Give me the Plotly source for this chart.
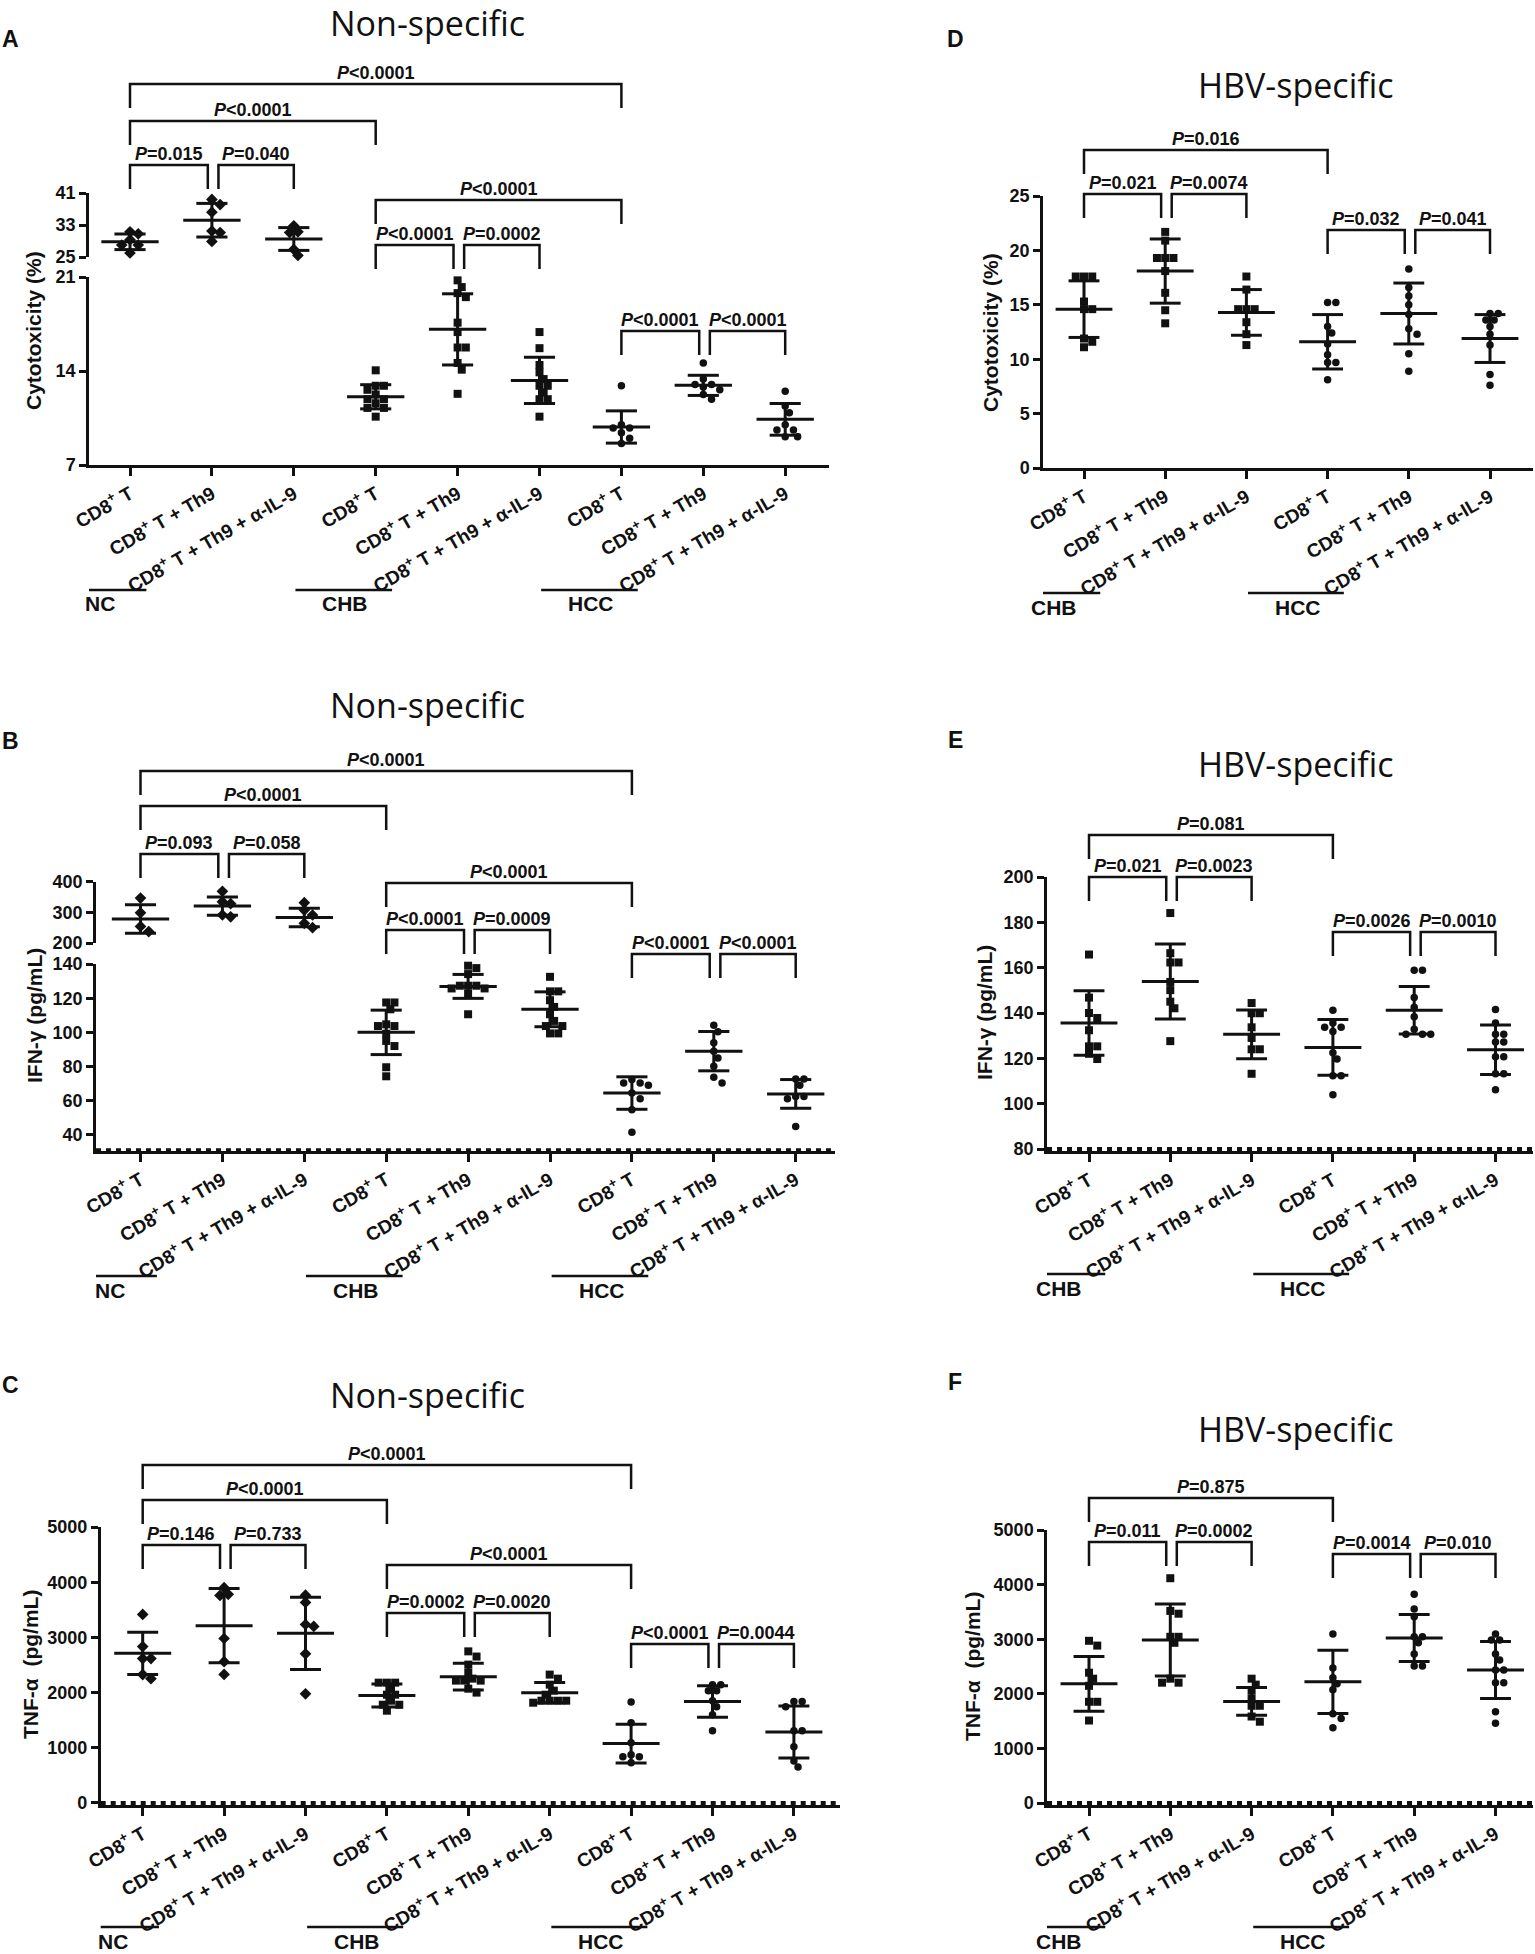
import plotly.graph_objects as go

# ── Canvas ────────────────────────────────────────────────────────────────
W, H = 1535, 1954
FONT = "Liberation Sans, Arial, sans-serif"
TITLE_FONT = "Open Sans, sans-serif"
INK = "#111111"

COND_LABELS = ["CD8<sup>+</sup> T", "CD8<sup>+</sup> T + Th9", "CD8<sup>+</sup> T + Th9 + α-IL-9"]

# ── A: cytotoxicity, non-specific (NC / CHB / HCC) ────────────────────────
A_GROUPS = ["NC", "CHB", "HCC"]
A_PTS = [
    [[31.3, 30.8, 29.3, 28.0, 28.0, 26.0], [39.4, 38.1, 36.2, 31.5, 31.1, 28.9], [32.8, 31.3, 31.1, 26.9, 25.4]],
    [[14.05, 12.9, 12.9, 12.6, 12.25, 11.9, 11.9, 11.6, 11.25, 11.25, 10.6],
     [20.75, 20.25, 19.8, 19.5, 17.6, 16.9, 15.75, 15.75, 14.6, 14.1, 12.3],
     [16.9, 15.7, 14.45, 13.9, 13.4, 12.9, 12.9, 12.4, 11.9, 11.9, 10.6]],
    [[12.9, 10.0, 9.75, 9.75, 9.4, 9.0, 8.6], [14.6, 13.4, 13.0, 13.0, 12.8, 12.6, 12.25, 11.9],
     [12.5, 11.4, 10.9, 10.0, 9.6, 9.6, 9.1, 9.1]],
]
A_MEAN = [[28.8, 34.2, 29.5], [12.08, 17.1, 13.3], [9.83, 12.93, 10.4]]
A_SD = [[1.95, 4.2, 2.85], [0.9, 2.65, 1.72], [1.2, 0.75, 1.18]]
A_TICKS_LOW = [7, 14, 21]
A_TICKS_UP = [25, 33, 41]
A_PAIRS = [(0, 6), (0, 3), (0, 1), (1, 2), (3, 6), (3, 4), (4, 5), (6, 7), (7, 8)]
A_PVALS = ["<0.0001", "<0.0001", "=0.015", "=0.040", "<0.0001", "<0.0001", "=0.0002", "<0.0001", "<0.0001"]

# ── B: IFN-γ, non-specific ────────────────────────────────────────────────
B_GROUPS = ["NC", "CHB", "HCC"]
B_PTS = [
    [[346, 298, 254, 237], [368, 334, 328, 291, 285], [331, 307, 291, 264, 250]],
    [[117.5, 117.5, 113.5, 104.7, 103.7, 103.7, 99.2, 95, 92, 79.6, 74.3],
     [139, 137.6, 134.1, 127.3, 127.3, 127.3, 125.7, 125.7, 122.7, 110.6],
     [132.5, 124, 124, 118.8, 114.9, 110.6, 106.7, 103.7, 103.7, 99.4, 99.4]],
    [[72.5, 70.4, 70.4, 69, 64.5, 61.2, 54.7, 41.6], [104.1, 100.4, 94, 89, 85, 80.2, 73.7, 70.4],
     [72.7, 72.7, 69, 62.5, 62.5, 61.2, 44.9]],
]
B_MEAN = [[278, 320, 283], [100, 126.9, 113.5], [64.5, 89, 64]]
B_SD = [[46, 29.5, 30.3], [13, 7, 10.2], [9.5, 11.5, 8.4]]
B_TICKS_LOW = [40, 60, 80, 100, 120, 140]
B_TICKS_UP = [200, 300, 400]
B_LOD = 31
B_PAIRS = [(0, 6), (0, 3), (0, 1), (1, 2), (3, 6), (3, 4), (4, 5), (6, 7), (7, 8)]
B_PVALS = ["<0.0001", "<0.0001", "=0.093", "=0.058", "<0.0001", "<0.0001", "=0.0009", "<0.0001", "<0.0001"]

# ── C: TNF-α, non-specific ────────────────────────────────────────────────
C_GROUPS = ["NC", "CHB", "HCC"]
C_PTS = [
    [[3416, 2834, 2616, 2616, 2326, 2253], [3900, 3780, 3760, 2980, 2560, 2330],
     [3765, 3634, 3234, 3198, 2703, 1977]],
    [[2180, 2180, 2180, 2071, 1962, 1962, 1853, 1780, 1780, 1672],
     [2747, 2653, 2507, 2362, 2253, 2217, 2217, 2217, 2071, 2000],
     [2326, 2253, 2144, 2035, 1962, 1853, 1853, 1853, 1853, 1817]],
    [[1831, 1453, 1090, 872, 836, 836, 727], [2144, 2144, 2035, 2035, 1853, 1744, 1599, 1308],
     [1839, 1839, 1744, 1308, 1308, 1017, 763, 654]],
]
C_MEAN = [[2711, 3212, 3074], [1948, 2289, 1999], [1076, 1839, 1286]]
C_SD = [[382, 672, 654], [207, 244, 182], [352, 284, 469]]
C_TICKS = [0, 1000, 2000, 3000, 4000, 5000]
C_LOD = 0
C_PAIRS = [(0, 6), (0, 3), (0, 1), (1, 2), (3, 6), (3, 4), (4, 5), (6, 7), (7, 8)]
C_PVALS = ["<0.0001", "<0.0001", "=0.146", "=0.733", "<0.0001", "=0.0002", "=0.0020", "<0.0001", "=0.0044"]

# ── D: cytotoxicity, HBV-specific (CHB / HCC) ─────────────────────────────
D_GROUPS = ["CHB", "HCC"]
D_PTS = [
    [[17.6, 17.6, 17.6, 15.3, 14.6, 14.6, 11.9, 11.6, 11.1], [21.7, 20.9, 19.3, 19.3, 19.3, 18.1, 16.1, 14.5, 13.3],
     [17.6, 16.4, 14.6, 14.6, 14.6, 13.4, 12.3, 11.3]],
    [[15.2, 15.2, 13.0, 12.4, 11.4, 10.4, 9.7, 9.7, 8.1], [18.3, 16.6, 15.8, 15.0, 14.1, 12.8, 12.3, 10.5, 8.9],
     [14.2, 14.2, 13.6, 13.6, 13.0, 12.3, 11.3, 8.6, 7.6]],
]
D_MEAN = [[14.6, 18.1, 14.3], [11.6, 14.2, 11.9]]
D_SD = [[2.6, 2.95, 2.1], [2.5, 2.8, 2.2]]
D_TICKS = [0, 5, 10, 15, 20, 25]
D_PAIRS = [(0, 3), (0, 1), (1, 2), (3, 4), (4, 5)]
D_PVALS = ["=0.016", "=0.021", "=0.0074", "=0.032", "=0.041"]

# ── E: IFN-γ, HBV-specific ────────────────────────────────────────────────
E_GROUPS = ["CHB", "HCC"]
E_PTS = [
    [[165.8, 146.8, 140, 137.8, 132.4, 125.3, 125.3, 122, 119.7],
     [184.1, 166.4, 162.3, 162.3, 153.7, 150.1, 145, 142.1, 127.6],
     [144.4, 139.9, 139.9, 133.7, 129, 124, 124, 113.2]],
    [[141.2, 135.6, 133.7, 133.7, 131.9, 122.5, 119.7, 112.3, 112.3, 103.9],
     [158.9, 158.9, 146.8, 142.5, 138.4, 132.8, 130.6, 130.6, 130.6],
     [141.6, 135.6, 130.6, 130.6, 127.2, 127.2, 120.7, 120.7, 113.2, 113.2, 106.1]],
]
E_MEAN = [[135.6, 153.9, 130.6], [124.8, 141.2, 123.8]]
E_SD = [[14.2, 16.5, 10.75], [12.3, 10.45, 10.95]]
E_TICKS = [80, 100, 120, 140, 160, 180, 200]
E_LOD = 80
E_PAIRS = [(0, 3), (0, 1), (1, 2), (3, 4), (4, 5)]
E_PVALS = ["=0.081", "=0.021", "=0.0023", "=0.0026", "=0.0010"]

# ── F: TNF-α, HBV-specific ────────────────────────────────────────────────
F_GROUPS = ["CHB", "HCC"]
F_PTS = [
    [[2971, 2883, 2387, 2277, 2146, 1854, 1854, 1511], [4117, 3518, 3467, 3044, 3044, 2934, 2277, 2204, 2204],
     [2277, 2168, 2058, 1912, 1781, 1781, 1584, 1489]],
    [[3095, 2474, 2292, 2182, 2073, 1635, 1547, 1380], [3825, 3555, 3409, 3044, 3044, 2934, 2730, 2511, 2511],
     [3095, 2985, 2985, 2730, 2620, 2438, 2438, 2204, 2204, 1672, 1460]],
]
F_MEAN = [[2182, 2985, 1861], [2219, 3022, 2438]]
F_SD = [[503, 661, 255], [580, 430, 522]]
F_TICKS = [0, 1000, 2000, 3000, 4000, 5000]
F_LOD = 0
F_PAIRS = [(0, 3), (0, 1), (1, 2), (3, 4), (4, 5)]
F_PVALS = ["=0.875", "=0.011", "=0.0002", "=0.0014", "=0.010"]

# ── Panel geometry (pixel positions on the 1535x1954 page) ─────────────────
PANELS = [
    dict(letter="A", title="Non-specific", ytitle="Cytotoxicity (%)", groups=A_GROUPS,
         pts=A_PTS, mean=A_MEAN, sd=A_SD, pairs=A_PAIRS, pvals=A_PVALS, lod=None,
         symbols=["diamond", "square", "circle"],
         xdom=(89, 829), cat0=130, step=81.9,
         segs=[dict(dom=(465, 277), rng=(7, 21), ticks=A_TICKS_LOW),
               dict(dom=(257, 193), rng=(25, 41), ticks=A_TICKS_UP)],
         bracket_y=[84, 121, 165, 165, 200, 245, 245, 331, 331],
         title_xy=(427, 23.5), letter_xy=(10, 39), ytitle_xy=(34, 331), group_y=590),
    dict(letter="B", title="Non-specific", ytitle="IFN-γ (pg/mL)", groups=B_GROUPS,
         pts=B_PTS, mean=B_MEAN, sd=B_SD, pairs=B_PAIRS, pvals=B_PVALS, lod=B_LOD,
         symbols=["diamond", "square", "circle"],
         xdom=(96, 835), cat0=140.5, step=81.9,
         segs=[dict(dom=(1151, 964), rng=(30.6, 140), ticks=B_TICKS_LOW),
               dict(dom=(943, 881.5), rng=(200, 400), ticks=B_TICKS_UP)],
         bracket_y=[771, 806, 854, 854, 883, 930, 930, 954, 954],
         title_xy=(427, 705), letter_xy=(10, 741), ytitle_xy=(34, 1016), group_y=1276),
    dict(letter="C", title="Non-specific", ytitle="TNF-α  (pg/mL)", groups=C_GROUPS,
         pts=C_PTS, mean=C_MEAN, sd=C_SD, pairs=C_PAIRS, pvals=C_PVALS, lod=C_LOD,
         symbols=["diamond", "square", "circle"],
         xdom=(100.7, 840), cat0=142.7, step=81.4,
         segs=[dict(dom=(1805.2, 1527), rng=(-40, 5000), ticks=C_TICKS)],
         bracket_y=[1465, 1500, 1545, 1545, 1565, 1613, 1613, 1644, 1644],
         title_xy=(427, 1395), letter_xy=(10, 1385), ytitle_xy=(30, 1665), group_y=1927),
    dict(letter="D", title="HBV-specific", ytitle="Cytotoxicity (%)", groups=D_GROUPS,
         pts=D_PTS, mean=D_MEAN, sd=D_SD, pairs=D_PAIRS, pvals=D_PVALS, lod=None,
         symbols=["square", "circle"],
         xdom=(1043, 1533), cat0=1084, step=81.2,
         segs=[dict(dom=(468, 196), rng=(0, 25), ticks=D_TICKS)],
         bracket_y=[150, 194, 194, 230, 230],
         title_xy=(1296, 85), letter_xy=(955, 39), ytitle_xy=(990, 332), group_y=593),
    dict(letter="E", title="HBV-specific", ytitle="IFN-γ (pg/mL)", groups=E_GROUPS,
         pts=E_PTS, mean=E_MEAN, sd=E_SD, pairs=E_PAIRS, pvals=E_PVALS, lod=E_LOD,
         symbols=["square", "circle"],
         xdom=(1047, 1533), cat0=1089, step=81.3,
         segs=[dict(dom=(1151.3, 877), rng=(79, 200), ticks=E_TICKS)],
         bracket_y=[835, 877, 877, 932, 932],
         title_xy=(1296, 764), letter_xy=(955, 740), ytitle_xy=(984, 1013), group_y=1274),
    dict(letter="F", title="HBV-specific", ytitle="TNF-α  (pg/mL)", groups=F_GROUPS,
         pts=F_PTS, mean=F_MEAN, sd=F_SD, pairs=F_PAIRS, pvals=F_PVALS, lod=F_LOD,
         symbols=["square", "circle"],
         xdom=(1047, 1533), cat0=1089, step=81.3,
         segs=[dict(dom=(1805.2, 1530), rng=(-40, 5000), ticks=F_TICKS)],
         bracket_y=[1498, 1542, 1542, 1554, 1554],
         title_xy=(1296, 1429), letter_xy=(955, 1382), ytitle_xy=(972, 1667), group_y=1927),
]

MARKER_SIZE = {"diamond": 9, "square": 8, "circle": 7.5}
LW = 2.5


def fx(p):
    return p / W


def fy(p):
    return 1 - p / H


def swarm(vals, px_per_unit, step_px, diam=7.5):
    """Side-by-side offsets (in category units) so that points do not overlap."""
    order = sorted(range(len(vals)), key=lambda i: -vals[i])
    placed, out = [], [0.0] * len(vals)
    cands = [0.0]
    for k in range(1, 8):
        cands += [k * diam * 0.55, -k * diam * 0.55]
    for i in order:
        y = vals[i] * px_per_unit
        for c in cands:
            if all((c - x) ** 2 + (y - yy) ** 2 >= (diam * 0.95) ** 2 for yy, x in placed):
                break
        placed.append((y, c))
        out[i] = c / step_px
    return out


fig = go.Figure()
layout = {}
shapes, annots = [], []
ycount = 0

for pi, p in enumerate(PANELS):
    xn = pi + 1
    xkey, xref = ("xaxis", "x") if xn == 1 else (f"xaxis{xn}", f"x{xn}")
    x0p, x1p = p["xdom"]
    xr = [(x0p - p["cat0"]) / p["step"], (x1p - p["cat0"]) / p["step"]]
    ncat = 3 * len(p["groups"])

    # y segments (lower first, optional upper for the broken axis)
    yrefs = []
    for s in p["segs"]:
        ycount += 1
        ykey, yref = ("yaxis", "y") if ycount == 1 else (f"yaxis{ycount}", f"y{ycount}")
        s["yref"] = yref
        s["ppu"] = (s["dom"][0] - s["dom"][1]) / (s["rng"][1] - s["rng"][0])
        yrefs.append(yref)
        layout[ykey] = dict(
            domain=[fy(s["dom"][0]), fy(s["dom"][1])], range=list(s["rng"]),
            anchor=xref, tickmode="array", tickvals=s["ticks"],
            ticks="outside", ticklen=7, tickwidth=LW, tickcolor=INK,
            showline=True, linewidth=LW, linecolor=INK,
            showgrid=False, zeroline=False,
            tickfont=dict(family=FONT, size=18, color=INK, weight="bold"),
        )

    layout[xkey] = dict(
        domain=[fx(x0p), fx(x1p)], range=xr, anchor=yrefs[0],
        tickmode="array", tickvals=list(range(ncat)),
        ticktext=COND_LABELS * len(p["groups"]), tickangle=-30,
        ticks="outside", ticklen=8, tickwidth=LW, tickcolor=INK,
        showline=True, linewidth=LW, linecolor=INK,
        showgrid=False, zeroline=False,
        tickfont=dict(family=FONT, size=19, color=INK, weight="bold"),
    )

    def seg_for(v):
        segs = p["segs"]
        chosen = segs[0]
        for s in segs[1:]:
            if v >= s["rng"][0] - 2 * (s["rng"][1] - s["rng"][0]) / 16:
                chosen = s
        return chosen

    # detection-limit dashed line
    if p["lod"] is not None:
        fig.add_trace(go.Scatter(
            x=xr, y=[p["lod"], p["lod"]], mode="lines", xaxis=xref, yaxis=p["segs"][0]["yref"],
            line=dict(color=INK, width=4, dash="5px,5px"), hoverinfo="skip"))

    for g, gname in enumerate(p["groups"]):
        sym = p["symbols"][g]
        for k in range(3):
            c = 3 * g + k
            vals = p["pts"][g][k]
            buckets = {}
            for v in vals:
                buckets.setdefault(seg_for(v)["yref"], []).append(v)
            for s in p["segs"]:
                vs = buckets.get(s["yref"], [])
                if not vs:
                    continue
                offs = swarm(vs, s["ppu"], p["step"])
                fig.add_trace(go.Scatter(
                    x=[c + o for o in offs], y=vs, mode="markers",
                    xaxis=xref, yaxis=s["yref"], cliponaxis=False,
                    marker=dict(symbol=sym, size=MARKER_SIZE[sym], color=INK, line=dict(width=0)),
                    name=f"{gname} {k}", hoverinfo="y"))
            # mean ± SD
            m, sd = p["mean"][g][k], p["sd"][g][k]
            s = seg_for(m)
            xs = [c - 0.35, c + 0.35, None, c - 0.19, c + 0.19, None,
                  c - 0.19, c + 0.19, None, c, c, None]
            ys = [m, m, None, m + sd, m + sd, None, m - sd, m - sd, None, m - sd, m + sd, None]
            fig.add_trace(go.Scatter(
                x=xs, y=ys, mode="lines", xaxis=xref, yaxis=s["yref"], cliponaxis=False,
                line=dict(color=INK, width=3), hoverinfo="skip"))

    # significance brackets
    for (i, j), pv, ypx in zip(p["pairs"], p["pvals"], p["bracket_y"]):
        oi = 0.08 if (j - i == 1 and i % 3 == 1) else 0.0
        oj = -0.05 if (j - i == 1 and j % 3 == 1) else 0.0
        xa, xb = i + oi, j + oj
        shapes.append(dict(
            type="path", xref=xref, yref="paper",
            path=f"M {xa},{fy(ypx + 24)} L {xa},{fy(ypx)} L {xb},{fy(ypx)} L {xb},{fy(ypx + 24)}",
            line=dict(color=INK, width=LW)))
        annots.append(dict(
            x=(xa + xb) / 2, y=fy(ypx + 1), xref=xref, yref="paper",
            text=f"<i>P</i>{pv.replace('<', '&lt;')}", showarrow=False,
            xanchor="center", yanchor="bottom",
            font=dict(family=FONT, size=18, color=INK, weight="bold")))

    # group underlines and labels
    for g, gname in enumerate(p["groups"]):
        c0 = 3 * g
        shapes.append(dict(
            type="line", xref=xref, yref="paper", x0=c0 - 0.98, x1=c0 + 0.2,
            y0=fy(p["group_y"]), y1=fy(p["group_y"]), line=dict(color=INK, width=LW)))
        annots.append(dict(
            x=c0 - 0.37, y=fy(p["group_y"] + 14), xref=xref, yref="paper",
            text=gname, showarrow=False, xanchor="center", yanchor="middle",
            font=dict(family=FONT, size=21, color=INK, weight="bold")))

    # panel title, letter, y title
    tx, ty = p["title_xy"]
    annots.append(dict(x=fx(tx), y=fy(ty), xref="paper", yref="paper", text=p["title"],
                       showarrow=False, xanchor="center", yanchor="middle",
                       font=dict(family=TITLE_FONT, size=34, color=INK)))
    lx, ly = p["letter_xy"]
    annots.append(dict(x=fx(lx), y=fy(ly), xref="paper", yref="paper", text=p["letter"],
                       showarrow=False, xanchor="center", yanchor="middle",
                       font=dict(family=FONT, size=23, color=INK, weight="bold")))
    yx, yy = p["ytitle_xy"]
    annots.append(dict(x=fx(yx), y=fy(yy), xref="paper", yref="paper", text=p["ytitle"],
                       showarrow=False, xanchor="center", yanchor="middle", textangle=-90,
                       font=dict(family=FONT, size=21, color=INK, weight="bold")))

fig.update_layout(
    template="none",
    width=W, height=H,
    margin=dict(l=0, r=0, t=0, b=0),
    paper_bgcolor="white", plot_bgcolor="white",
    showlegend=False,
    font=dict(family=FONT, color=INK),
    shapes=shapes, annotations=annots,
    **layout,
)

# the page's default 8 px body margin would push the full-page figure off the window
fig.write_html("out.html", config={"displayModeBar": False},
               post_script="document.body.style.margin = '0';")
